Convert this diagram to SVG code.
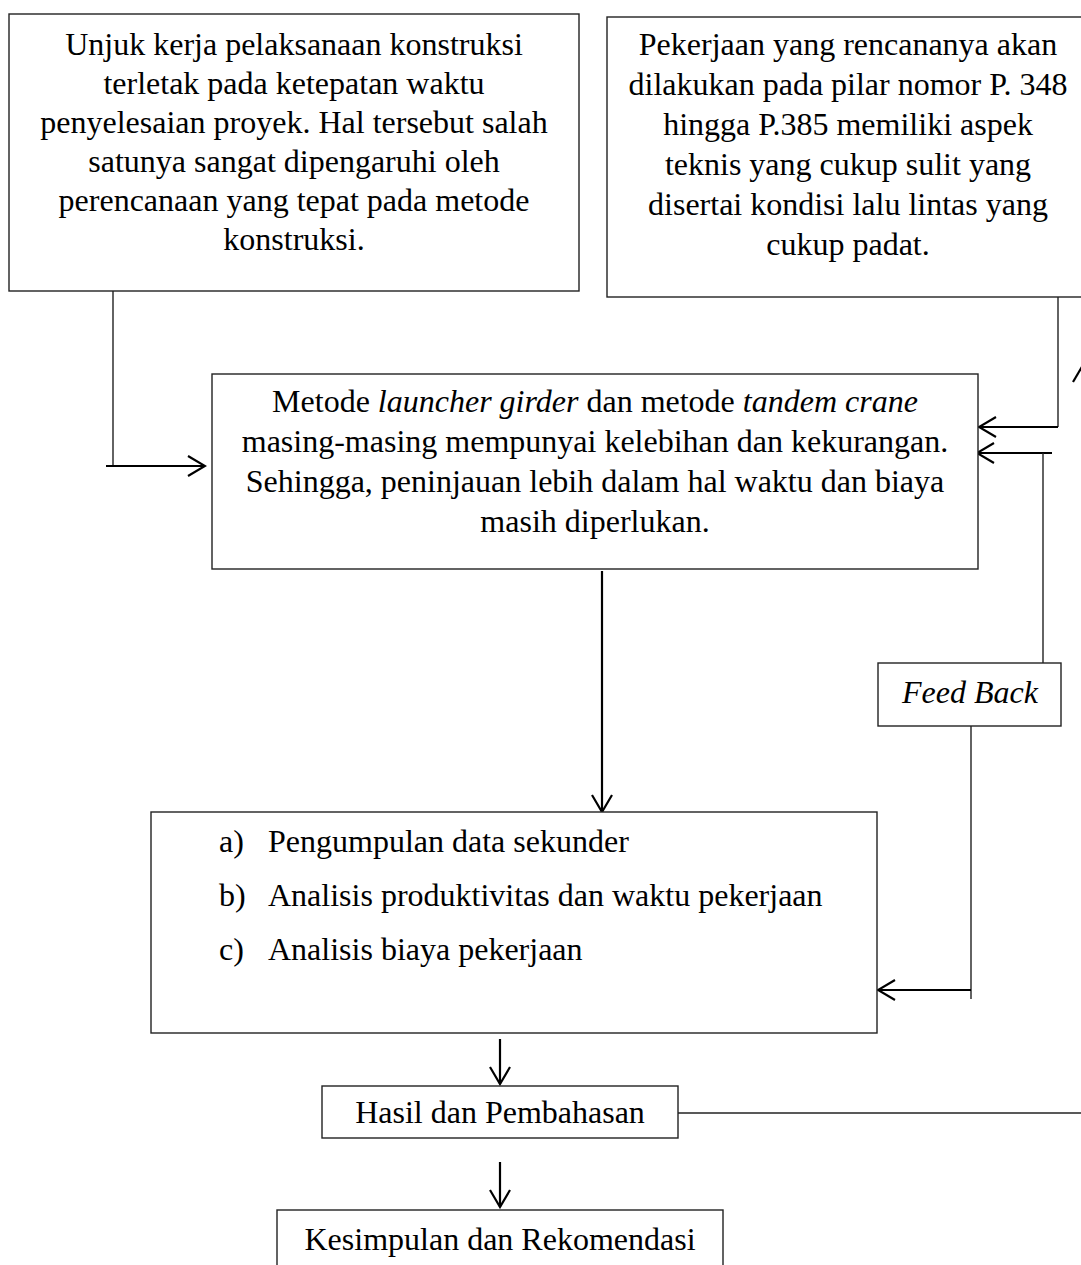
<svg xmlns="http://www.w3.org/2000/svg" width="1081" height="1265" viewBox="0 0 1081 1265">
<style>
  .box { fill: #ffffff; stroke: #222222; stroke-width: 1.4; }
  .t { font-family: "Liberation Serif", "Times New Roman", serif; font-size: 32px; fill: #000000; }
  .c { text-anchor: middle; }
  .thin { fill: none; stroke: #222222; stroke-width: 1.4; }
  .arr { fill: none; stroke: #000000; stroke-width: 2.2; marker-end: url(#ah); }
</style>
<defs>
  <marker id="ah" markerUnits="userSpaceOnUse" viewBox="-20 -12 22 24" refX="0" refY="0" markerWidth="22" markerHeight="24" orient="auto">
    <path d="M-17,-10 L0,0 L-17,10" fill="none" stroke="#000000" stroke-width="2.2"/>
  </marker>
</defs>
<rect width="1081" height="1265" fill="#ffffff"/>

<g id="connectors">
  <path class="thin" d="M113,291 V466"/>
  <path class="arr" d="M106,466 H205"/>
  <path class="arr" d="M602,571 V812"/>
  <path class="thin" d="M1058,297 V427"/>
  <path class="arr" d="M1058,427 H979"/>
  <path class="arr" d="M1052,453 H977"/>
  <path class="thin" d="M1043,453 V663"/>
  <path class="thin" d="M971,726 V999"/>
  <path class="arr" d="M971,990 H878"/>
  <path class="arr" d="M500,1039 V1084"/>
  <path class="thin" d="M678,1113 H1081"/>
  <path class="arr" d="M500,1162 V1207"/>
  <path d="M1073,382 L1083,365" fill="none" stroke="#000000" stroke-width="2.2"/>
</g>

<g id="node-unjuk">
  <rect class="box" x="9" y="14" width="570" height="277"/>
  <text class="t c" x="294" y="55">Unjuk kerja pelaksanaan konstruksi</text>
  <text class="t c" x="294" y="94">terletak pada ketepatan waktu</text>
  <text class="t c" x="294" y="133">penyelesaian proyek. Hal tersebut salah</text>
  <text class="t c" x="294" y="172">satunya sangat dipengaruhi oleh</text>
  <text class="t c" x="294" y="211">perencanaan yang tepat pada metode</text>
  <text class="t c" x="294" y="250">konstruksi.</text>
</g>

<g id="node-pekerjaan">
  <rect class="box" x="607" y="17" width="483" height="280"/>
  <text class="t c" x="848" y="55">Pekerjaan yang rencananya akan</text>
  <text class="t c" x="848" y="95">dilakukan pada pilar nomor P. 348</text>
  <text class="t c" x="848" y="135">hingga P.385 memiliki aspek</text>
  <text class="t c" x="848" y="175">teknis yang cukup sulit yang</text>
  <text class="t c" x="848" y="215">disertai kondisi lalu lintas yang</text>
  <text class="t c" x="848" y="255">cukup padat.</text>
</g>

<g id="node-metode">
  <rect class="box" x="212" y="374" width="766" height="195"/>
  <text class="t c" x="595" y="412">Metode <tspan font-style="italic">launcher girder</tspan> dan metode <tspan font-style="italic">tandem crane</tspan></text>
  <text class="t c" x="595" y="452">masing-masing mempunyai kelebihan dan kekurangan.</text>
  <text class="t c" x="595" y="492">Sehingga, peninjauan lebih dalam hal waktu dan biaya</text>
  <text class="t c" x="595" y="532">masih diperlukan.</text>
</g>

<g id="node-feedback">
  <rect class="box" x="878" y="663" width="183" height="63"/>
  <text class="t c" x="970" y="703" font-style="italic">Feed Back</text>
</g>

<g id="node-analisis">
  <rect class="box" x="151" y="812" width="726" height="221"/>
  <text class="t" x="219" y="852">a)</text>
  <text class="t" x="268" y="852">Pengumpulan data sekunder</text>
  <text class="t" x="219" y="906">b)</text>
  <text class="t" x="268" y="906">Analisis produktivitas dan waktu pekerjaan</text>
  <text class="t" x="219" y="960">c)</text>
  <text class="t" x="268" y="960">Analisis biaya pekerjaan</text>
</g>

<g id="node-hasil">
  <rect class="box" x="322" y="1086" width="356" height="52"/>
  <text class="t c" x="500" y="1123">Hasil dan Pembahasan</text>
</g>

<g id="node-kesimpulan">
  <rect class="box" x="277" y="1210" width="446" height="70"/>
  <text class="t c" x="500" y="1250">Kesimpulan dan Rekomendasi</text>
</g>
</svg>
